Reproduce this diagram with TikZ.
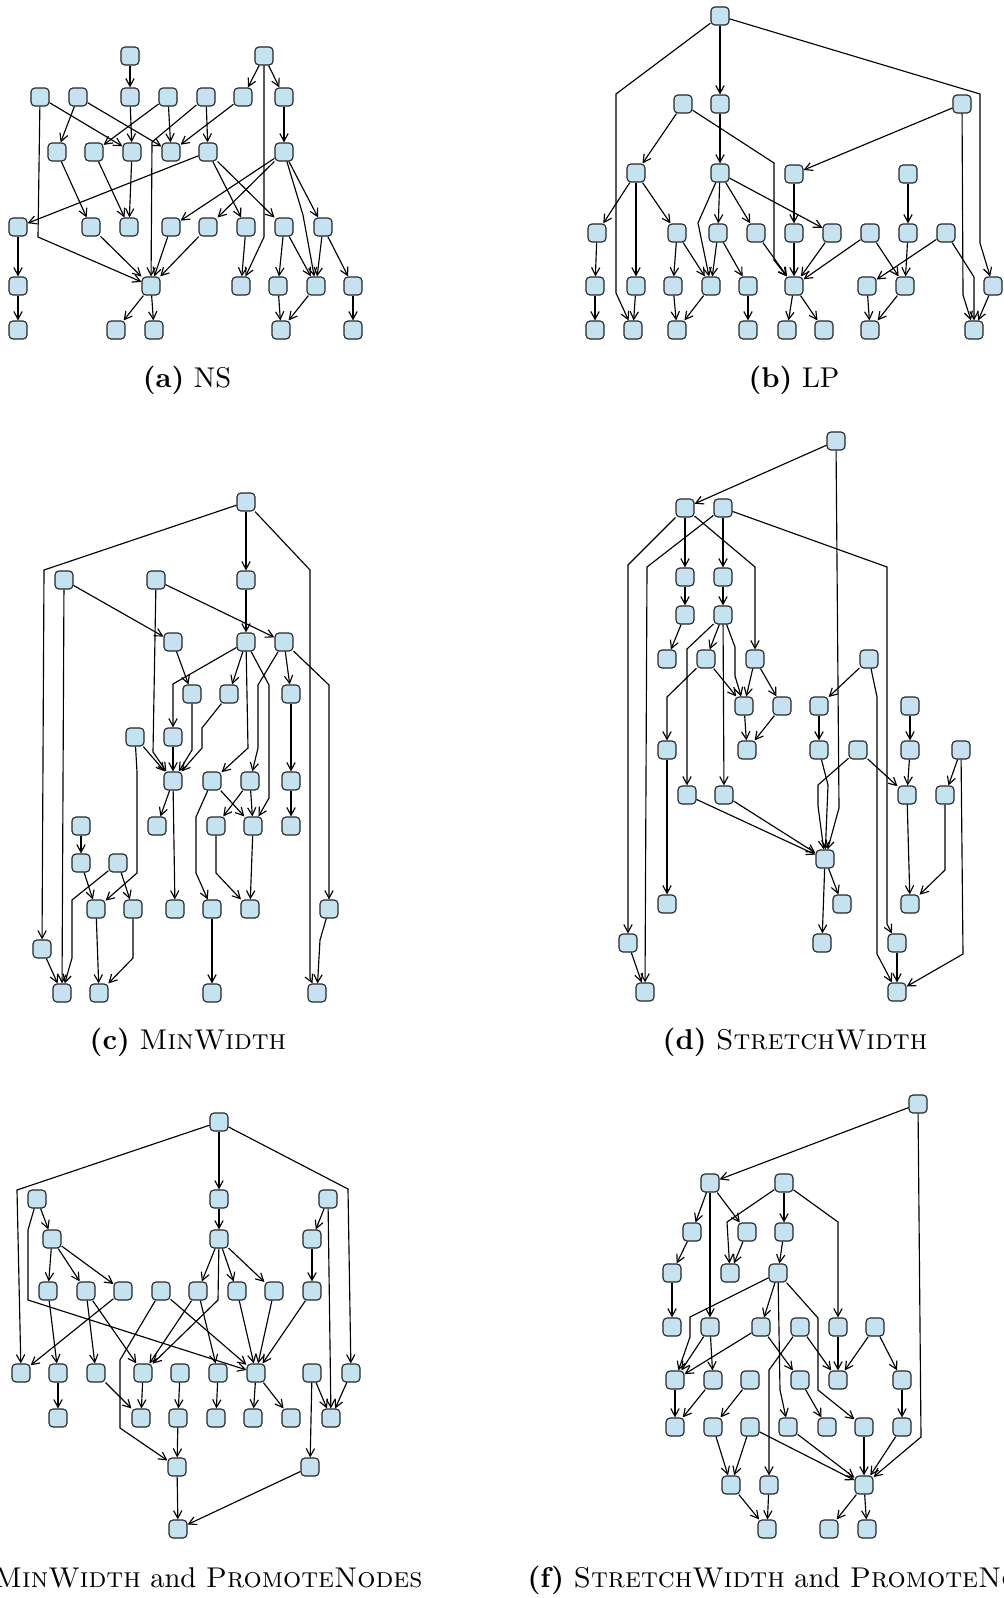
\documentclass[tikz,border=0pt]{standalone}
\usetikzlibrary{arrows.meta}
\definecolor{nfill}{RGB}{197,226,241}
\begin{document}
\begin{tikzpicture}[x=0.35pt,y=-0.35pt,
 nd/.style={draw=black!85, fill=nfill, rounded corners=1.4pt, minimum width=6.3pt, minimum height=6.3pt, inner sep=0pt, line width=0.4pt},
 ed/.style={draw, line width=0.4pt, -{Straight Barb[length=2.7pt,width=2.9pt]}},
 captext/.style={font=\fontsize{10}{12}\selectfont, anchor=base, inner sep=0pt}]
\useasboundingbox (0,0) rectangle (1004,1598);
% ---------------- (a)
\foreach \n/\x/\y in {a1/130/56, a2/264/56, a3/40/97, a4/78/97, a5/130/97, a6/168/97, a7/206/97, a8/243/97, a9/284/97, a10/57/152, a11/94/152, a12/132/152, a13/171/152, a14/208/152, a15/284/152, a16/18/227, a17/91/227, a18/129/227, a19/171/227, a20/208/227, a21/246/227, a22/284/227, a23/323/227, a24/18/286, a25/151/286, a26/241/286, a27/278/286, a28/316/286, a29/353/286, a30/18/330, a31/116/330, a32/154/330, a33/281/330, a34/353/330}
  \node[nd] (\n) at (\x,\y) {};
\foreach \s/\t in {a1/a5, a2/a8, a2/a9, a3/a12, a4/a10, a4/a13, a5/a12, a6/a11, a6/a13, a7/a14, a8/a13, a9/a15, a10/a17, a11/a18, a12/a18, a14/a16, a14/a21, a14/a22, a15/a20, a15/a19, a15/a23, a16/a24, a24/a30, a17/a25, a19/a25, a20/a25, a21/a26, a22/a27, a22/a28, a23/a28, a23/a29, a25/a31, a25/a32, a27/a33, a28/a33, a29/a34}
  \draw[ed] (\s) -- (\t);
\draw[ed] (a2) -- (264,237) -- (a26);
\draw[ed] (a3) -- (38,237) -- (a25);
\draw[ed] (a7) -- (152,142) -- (a25);
\draw[ed] (a15) -- (303,215) -- (a28);
% ---------------- (b)
\foreach \n/\x/\y in {b1/720/16, b2/683/104, b3/720/104, b4/962/104, b5/636/173, b6/720/173, b7/794/174, b8/908/174, b9/597/233, b10/677/233, b11/718/233, b12/756/233, b13/794/233, b14/832/233, b15/870/233, b16/908/233, b17/946/233, b18/595/286, b19/636/286, b20/673/286, b21/711/286, b22/748/286, b23/794/286, b24/867/286, b25/905/286, b26/993/286, b27/595/330, b28/633/330, b29/677/330, b30/748/330, b31/787/330, b32/824/330, b33/870/330, b34/974/330}
  \node[nd] (\n) at (\x,\y) {};
\foreach \s/\t in {b1/b3, b2/b5, b3/b6, b4/b7, b5/b9, b5/b19, b5/b10, b6/b11, b6/b12, b6/b14, b7/b13, b8/b16, b9/b18, b18/b27, b10/b20, b10/b21, b11/b21, b11/b22, b12/b23, b13/b23, b14/b23, b15/b23, b15/b25, b16/b25, b17/b24, b19/b28, b20/b29, b21/b29, b22/b30, b23/b31, b23/b32, b24/b33, b25/b33, b26/b34}
  \draw[ed] (\s) -- (\t);
\draw[ed] (b1) -- (616,94) -- (616,293) -- (b28);
\draw[ed] (b1) -- (980,94) -- (980,243) -- (b26);
\draw[ed] (b2) -- (774,163) -- (774,260) -- (b23);
\draw[ed] (b4) -- (963,295) -- (b34);
\draw[ed] (b6) -- (698,223) -- (b21);
\draw[ed] (b17) -- (974,277) -- (b34);
% ---------------- (c)
\foreach \n/\x/\y in {c1/246/502, c2/64/580, c3/156/580, c4/246/580, c5/173/642, c6/246/642, c7/284/642, c8/192/694, c9/229/694, c10/291/694, c11/135/737, c12/173/737, c13/173/781, c14/212/781, c15/250/781, c16/291/781, c17/81/826, c18/157/826, c19/216/826, c20/253/826, c21/291/826, c22/81/863, c23/118/863, c24/96/909, c25/133/909, c26/175/909, c27/212/909, c28/250/909, c29/329/909, c30/42/949, c31/62/993, c32/99/993, c33/212/993, c34/317/993}
  \node[nd] (\n) at (\x,\y) {};
\foreach \s/\t in {c1/c4, c2/c31, c2/c5, c3/c7, c4/c6, c5/c8, c6/c9, c7/c10, c11/c13, c12/c13, c13/c18, c13/c26, c17/c22, c22/c24, c23/c25, c24/c32, c30/c31, c10/c16, c16/c21, c14/c20, c15/c19, c15/c20, c20/c28, c27/c33}
  \draw[ed] (\s) -- (\t);
\draw[ed] (c1) -- (44,570) -- (c30);
\draw[ed] (c1) -- (310,570) -- (310,978) -- (c34);
\draw[ed] (c3) -- (153,752) -- (c13);
\draw[ed] (c6) -- (173,684) -- (c12);
\draw[ed] (c6) -- (248,748) -- (c14);
\draw[ed] (c6) -- (269,685) -- (269,798) -- (c20);
\draw[ed] (c7) -- (258,685) -- (258,748) -- (c15);
\draw[ed] (c7) -- (329,685) -- (c29);
\draw[ed] (c8) -- (192,750) -- (c13);
\draw[ed] (c9) -- (202,728) -- (202,748) -- (c13);
\draw[ed] (c11) -- (137,772) -- (137,873) -- (c24);
\draw[ed] (c23) -- (72,900) -- (72,958) -- (c31);
\draw[ed] (c25) -- (133,958) -- (c32);
\draw[ed] (c14) -- (196,817) -- (196,873) -- (c27);
\draw[ed] (c19) -- (216,873) -- (c28);
\draw[ed] (c29) -- (320,940) -- (c34);
% ---------------- (d)
\foreach \n/\x/\y in {d1/836/441, d2/685/508, d3/723/508, d4/685/577, d5/723/577, d6/685/615, d7/723/615, d8/667/659, d9/706/659, d10/755/659, d11/869/659, d12/744/706, d13/782/706, d14/819/706, d15/910/706, d16/667/750, d17/747/750, d18/819/750, d19/858/750, d20/910/750, d21/961/750, d22/687/795, d23/724/795, d24/907/795, d25/945/795, d26/825/859, d27/667/904, d28/842/904, d29/910/904, d30/628/943, d31/822/943, d32/897/943, d33/645/992, d34/897/992}
  \node[nd] (\n) at (\x,\y) {};
\foreach \s/\t in {d1/d2, d2/d4, d3/d5, d4/d6, d6/d8, d5/d7, d7/d9, d7/d23, d9/d12, d10/d12, d10/d13, d12/d17, d13/d17, d16/d27, d22/d26, d23/d26, d30/d33, d11/d14, d14/d18, d19/d24, d15/d20, d20/d24, d21/d25, d24/d29, d26/d31, d26/d28, d32/d34}
  \draw[ed] (\s) -- (\t);
\draw[ed] (d1) -- (839,808) -- (d26);
\draw[ed] (d2) -- (628,565) -- (d30);
\draw[ed] (d2) -- (755,567) -- (d10);
\draw[ed] (d3) -- (647,567) -- (d33);
\draw[ed] (d3) -- (887,567) -- (887,924) -- (d32);
\draw[ed] (d7) -- (687,649) -- (d22);
\draw[ed] (d7) -- (735,647) -- (735,676) -- (d12);
\draw[ed] (d9) -- (667,697) -- (d16);
\draw[ed] (d11) -- (877,697) -- (877,954) -- (d34);
\draw[ed] (d18) -- (828,785) -- (d26);
\draw[ed] (d19) -- (818,785) -- (818,806) -- (d26);
\draw[ed] (d21) -- (963,954) -- (d34);
\draw[ed] (d25) -- (945,870) -- (d29);
% ---------------- (e)
\foreach \n/\x/\y in {e1/219/1122, e2/37/1199, e3/219/1199, e4/328/1199, e5/52/1239, e6/219/1239, e7/312/1239, e8/48/1291, e9/86/1291, e10/123/1291, e11/161/1291, e12/198/1291, e13/237/1291, e14/274/1291, e15/312/1291, e16/21/1373, e17/58/1373, e18/96/1373, e19/143/1373, e20/180/1373, e21/218/1373, e22/256/1373, e23/312/1373, e24/351/1373, e25/58/1418, e26/141/1418, e27/178/1418, e28/216/1418, e29/253/1418, e30/291/1418, e31/331/1418, e32/177/1467, e33/310/1467, e34/178/1529}
  \node[nd] (\n) at (\x,\y) {};
\foreach \s/\t in {e1/e3, e2/e5, e3/e6, e4/e7, e4/e31, e5/e8, e5/e9, e5/e10, e6/e12, e6/e13, e6/e14, e7/e15, e8/e17, e9/e18, e9/e19, e10/e16, e11/e22, e12/e19, e12/e21, e13/e22, e14/e22, e15/e22, e17/e25, e18/e26, e19/e26, e20/e27, e21/e28, e22/e29, e22/e30, e23/e31, e23/e33, e24/e31, e27/e32, e32/e34, e33/e34}
  \draw[ed] (\s) -- (\t);
\draw[ed] (e1) -- (17,1190) -- (e16);
\draw[ed] (e1) -- (348,1189) -- (e24);
\draw[ed] (e2) -- (28,1230) -- (28,1300) -- (e22);
\draw[ed] (e6) -- (218,1300) -- (e19);
\draw[ed] (e11) -- (120,1360) -- (120,1428) -- (e32);
% ---------------- (f)
\foreach \n/\x/\y in {f1/918/1104, f2/710/1183, f3/784/1183, f4/692/1232, f5/747/1232, f6/784/1232, f7/672/1273, f8/730/1273, f9/778/1273, f10/672/1327, f11/710/1327, f12/761/1327, f13/800/1327, f14/838/1327, f15/875/1327, f16/675/1380, f17/713/1380, f18/750/1380, f19/800/1380, f20/838/1380, f21/902/1380, f22/675/1427, f23/713/1427, f24/750/1427, f25/788/1427, f26/827/1427, f27/864/1427, f28/902/1427, f29/731/1485, f30/769/1485, f31/864/1485, f32/767/1529, f33/829/1529, f34/867/1529}
  \node[nd] (\n) at (\x,\y) {};
\foreach \s/\t in {f1/f2, f2/f4, f2/f11, f2/f5, f3/f6, f4/f7, f7/f10, f5/f8, f6/f9, f9/f12, f11/f16, f11/f17, f12/f16, f12/f19, f13/f20, f14/f20, f15/f20, f15/f21, f16/f22, f17/f22, f18/f23, f19/f26, f21/f28, f23/f29, f24/f29, f24/f31, f25/f31, f27/f31, f28/f31, f29/f32, f30/f32, f31/f33, f31/f34}
  \draw[ed] (\s) -- (\t);
\draw[ed] (f1) -- (921,1437) -- (f31);
\draw[ed] (f3) -- (727,1222) -- (f8);
\draw[ed] (f3) -- (838,1222) -- (f14);
\draw[ed] (f9) -- (690,1317) -- (690,1337) -- (f16);
\draw[ed] (f9) -- (780,1390) -- (f25);
\draw[ed] (f9) -- (818,1318) -- (818,1390) -- (f27);
\draw[ed] (f13) -- (769,1370) -- (f30);
% ---------------- captions
\node[captext] (capa) at (187,387) {\textbf{(a)} NS};
\node[captext] (capb) at (794,387) {\textbf{(b)} LP};
\node[captext] (capc) at (188,1049) {\textbf{(c)} \textsc{MinWidth}};
\node[captext] (capd) at (795,1049) {\textbf{(d)} \textsc{StretchWidth}};
\node[captext, anchor=base east] (cape) at (423,1587) {\textbf{(e)} \textsc{MinWidth} and \textsc{PromoteNodes}};
\node[captext, anchor=base west] (capf) at (527,1587) {\textbf{(f)} \textsc{StretchWidth} and \textsc{PromoteNodes}};
\end{tikzpicture}
\end{document}
